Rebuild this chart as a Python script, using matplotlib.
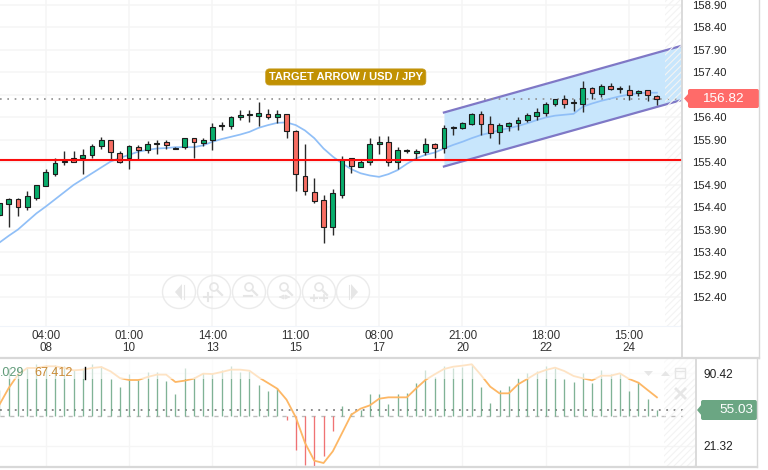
import matplotlib
matplotlib.use("Agg")
import matplotlib.pyplot as plt
import matplotlib.patches as patches
from matplotlib.transforms import blended_transform_factory

plt.rcParams["font.family"] = ["Liberation Sans", "DejaVu Sans"]
plt.rcParams["hatch.linewidth"] = 0.8

opens = [154.22, 154.46, 154.58, 154.41, 154.61, 154.87, 155.14, 155.39, 155.50, 155.48, 155.56, 155.75,
         155.88, 155.61, 155.48, 155.73, 155.67, 155.81, 155.84, 155.70, 155.73, 155.93, 155.83, 155.88,
         156.21, 156.19, 156.41, 156.44, 156.43, 156.47, 156.41, 156.46, 156.10, 155.10, 154.74, 154.55,
         153.96, 154.67, 155.48, 155.30, 155.39, 155.81, 155.84, 155.39, 155.64, 155.59, 155.63, 155.81,
         155.72, 156.15, 156.16, 156.24, 156.47, 156.24, 156.06, 156.21, 156.26, 156.33, 156.42, 156.50,
         156.70, 156.79, 156.71, 156.70, 157.04, 156.91, 157.09, 157.02, 157.01, 156.93, 156.99, 156.87]
closes = [154.48, 154.58, 154.41, 154.64, 154.89, 155.18, 155.37, 155.42, 155.41, 155.56, 155.76, 155.88,
          155.63, 155.39, 155.76, 155.67, 155.81, 155.83, 155.78, 155.72, 155.93, 155.84, 155.88, 156.17,
          156.22, 156.41, 156.44, 156.47, 156.49, 156.41, 156.47, 156.10, 155.13, 154.76, 154.53, 153.96,
          154.72, 155.44, 155.32, 155.39, 155.81, 155.84, 155.41, 155.66, 155.66, 155.64, 155.81, 155.72,
          156.15, 156.17, 156.26, 156.47, 156.24, 156.04, 156.22, 156.26, 156.34, 156.44, 156.51, 156.70,
          156.79, 156.70, 156.73, 157.04, 156.93, 157.10, 157.03, 157.04, 156.90, 156.98, 156.89, 156.79]
highs = [154.50, 154.61, 154.61, 154.76, 154.90, 155.24, 155.50, 155.65, 155.65, 155.68, 155.81, 155.95,
         155.90, 155.64, 155.78, 155.78, 155.87, 155.90, 155.88, 155.73, 155.94, 155.94, 155.94, 156.27,
         156.30, 156.42, 156.56, 156.56, 156.74, 156.58, 156.56, 156.47, 156.11, 155.80, 155.05, 154.66,
         154.81, 155.53, 155.50, 155.44, 155.93, 155.98, 155.98, 155.73, 155.70, 155.70, 155.93, 155.83,
         156.22, 156.19, 156.30, 156.48, 156.53, 156.43, 156.26, 156.30, 156.39, 156.50, 156.59, 156.73,
         156.81, 156.89, 156.81, 157.19, 157.07, 157.13, 157.15, 157.10, 157.11, 157.00, 157.00, 156.89]
lows = [154.20, 153.95, 154.21, 154.33, 154.56, 154.87, 155.09, 155.33, 155.40, 155.13, 155.50, 155.69,
        155.44, 155.37, 155.24, 155.46, 155.59, 155.58, 155.70, 155.69, 155.68, 155.50, 155.76, 155.67,
        156.11, 156.14, 156.33, 156.28, 156.21, 156.35, 156.27, 155.94, 154.76, 154.67, 154.48, 153.59,
        153.78, 154.59, 155.16, 155.28, 155.33, 155.57, 155.31, 155.24, 155.59, 155.47, 155.56, 155.48,
        155.59, 155.99, 156.13, 156.22, 156.00, 155.94, 155.81, 156.10, 156.11, 156.28, 156.33, 156.42,
        156.65, 156.61, 156.54, 156.52, 156.79, 156.85, 156.99, 156.93, 156.78, 156.87, 156.76, 156.67]
moving_avg = [153.61, 153.76, 153.90, 154.08, 154.26, 154.41, 154.57, 154.73, 154.89, 155.02, 155.15, 155.28,
              155.41, 155.49, 155.56, 155.63, 155.67, 155.70, 155.71, 155.73, 155.73, 155.73, 155.77, 155.85,
              155.91, 155.96, 156.01, 156.07, 156.16, 156.22, 156.27, 156.28, 156.22, 156.10, 155.93, 155.70,
              155.52, 155.37, 155.24, 155.15, 155.10, 155.07, 155.13, 155.22, 155.36, 155.48, 155.56, 155.61,
              155.70, 155.78, 155.85, 155.93, 156.00, 156.05, 156.11, 156.15, 156.20, 156.26, 156.33, 156.39,
              156.43, 156.45, 156.47, 156.63, 156.70, 156.76, 156.81, 156.86, 156.90, 156.93, 156.94, 156.94]
osc_bars = [74.7, 95.2, 95.2, 95.2, 99.0, 97.7, 97.7, 96.8, 93.6, 95.2, 99.0, 96.8,
            85.1, 76.9, 89.8, 84.1, 91.1, 91.1, 82.5, 70.5, 95.2, 86.7, 90.4, 90.4,
            93.0, 96.8, 91.1, 92.6, 78.8, 73.7, 76.2, 46.2, 17.8, 3.0, 2.1, 11.5,
            35.2, 58.9, 52.6, 55.7, 70.5, 70.2, 61.1, 70.2, 71.8, 80.7, 93.3, 87.0,
            97.4, 94.9, 96.4, 98.7, 77.5, 62.4, 74.3, 78.5, 85.4, 90.1, 92.3, 97.1,
            95.5, 84.8, 82.2, 90.1, 80.7, 93.3, 89.2, 90.1, 73.7, 81.6, 65.5, 55.03]
osc_line = [60.5, 76.2, 88.9, 95.2, 95.2, 96.8, 96.8, 95.2, 93.0, 93.6, 95.2, 96.1,
            92.0, 85.7, 83.8, 83.8, 86.7, 88.9, 88.9, 81.9, 83.2, 85.1, 89.8, 89.5,
            91.4, 93.6, 93.6, 92.6, 86.3, 81.0, 75.6, 65.2, 48.5, 24.2, 7.4, 5.2,
            16.3, 33.6, 51.0, 56.7, 59.8, 66.1, 67.4, 67.4, 67.4, 75.9, 83.8, 89.2,
            94.2, 96.4, 97.4, 98.7, 88.5, 77.5, 71.2, 71.2, 79.7, 84.8, 90.1, 93.3,
            95.5, 92.3, 87.6, 85.4, 83.5, 87.9, 87.9, 90.1, 84.8, 81.3, 74.3, 67.412]

time_ticks = [5, 14, 23, 32, 41, 50, 59, 68]
time_labels = ["04:00\n08", "01:00\n10", "14:00\n13", "11:00\n15", "08:00\n17", "21:00\n20", "18:00\n22", "15:00\n24"]
price_ticks = [158.9, 158.4, 157.9, 157.4, 156.9, 156.4, 155.9, 155.4, 154.9, 154.4, 153.9, 153.4, 152.9, 152.4]
price_labels = ["158.90", "158.40", "157.90", "157.40", "", "156.40", "155.90", "155.40", "154.90", "154.40",
                "153.90", "153.40", "152.90", "152.40"]
osc_ticks = [90.42, 21.32]
osc_labels = ["90.42", "21.32"]

last_price_line = 156.79
last_osc = 55.03
support = 155.45
channel_x = [48, 73.71]
channel_upper = [156.50, 157.985]
channel_lower = [155.30, 156.78]

GREEN = "#08ad6c"
RED = "#f76d62"
GRID = "#f5f5f5"
W, H = 768, 470


def pane(left, top, right, bottom):
    return fig.add_axes([left / W, 1 - bottom / H, (right - left) / W, (bottom - top) / H])


fig = plt.figure(figsize=(W / 100, H / 100), dpi=100, facecolor="white")

# price pane
ax = pane(0, 0, 682, 326)
idx = list(range(len(opens)))
ax.fill_between(channel_x, channel_lower, channel_upper, color="#c8e6fc", lw=0, zorder=1)
ax.plot(channel_x, channel_upper, color="#7f78c6", lw=1.6, zorder=2)
ax.plot(channel_x, channel_lower, color="#7f78c6", lw=1.6, zorder=2)
ax.axhline(last_price_line, color="#8f8f8f", lw=1.2, linestyle=(0, (1, 3.4)), zorder=2)
ax.axhline(support, color="#fb0d0d", lw=1.5, zorder=5)
ax.plot(idx, moving_avg, color="#90bff7", lw=1.25, zorder=3)

ax.vlines(idx, lows, highs, color="#2a2a2a", lw=1.0, zorder=4)
colors = [GREEN if c >= o else RED for o, c in zip(opens, closes)]
ax.bar(idx, [abs(c - o) for o, c in zip(opens, closes)], bottom=[min(o, c) for o, c in zip(opens, closes)],
       width=0.52, color=colors, edgecolor="#1c1c1c", linewidth=0.8, zorder=4)

ax.set_xlim(0.059, 73.71)
ax.set_ylim(151.756, 159.0)
ax.set_xticks(time_ticks)
ax.set_xticklabels(time_labels, fontsize=8.4, color="#333333", linespacing=0.95)
ax.set_yticks(price_ticks)
ax.set_yticklabels(price_labels, fontsize=8.1, color="#222222")
ax.yaxis.tick_right()
ax.tick_params(axis="x", length=0, pad=3)
ax.tick_params(axis="y", length=0, pad=7)
ax.grid(True, color=GRID, lw=1.1, zorder=0)
ax.set_axisbelow(True)
for s in ax.spines.values():
    s.set_visible(False)
ax.spines["bottom"].set_visible(True)
ax.spines["bottom"].set_color("#f0f4fa")

hatch_tr = blended_transform_factory(ax.transData, ax.transAxes)
ax.add_patch(patches.Rectangle((71.9, 0), 1.81, 1, transform=hatch_tr, facecolor="none", edgecolor="#f3f3f3",
                               hatch="/////", lw=0, zorder=2))

ax.text(37.4, 157.29, "TARGET ARROW / USD / JPY", color="white", fontsize=8.0, fontweight="bold", ha="center",
        va="center", zorder=6, bbox=dict(boxstyle="round,pad=0.28,rounding_size=0.35", fc="#c19102", ec="#c9a02a", lw=0.5))

# oscillator pane
ax2 = pane(0, 359, 696, 467)
ax2.axhline(50, xmax=683 / 696, color="#bdbdbd", lw=1.0, linestyle=(0, (3, 4)), zorder=1)
ax2.axhline(last_osc, xmax=683 / 696, color="#808080", lw=1.3, linestyle=(0, (1, 3.1)), zorder=1)
bar_colors = ["#6aa684" if v >= 50 else "#ee5a5c" for v in osc_bars]
ax2.vlines(idx, 50, osc_bars, colors=bar_colors, lw=0.95, alpha=0.85, zorder=2)
ax2.plot(idx, osc_line, color="#fdb765", lw=1.3, zorder=3)
ax2.set_xlim(0.059, 75.22)
ax2.set_ylim(1.43, 103.7)
ax2.set_xticks(time_ticks)
ax2.set_xticklabels([])
ax2.set_yticks(osc_ticks)
ax2.set_yticklabels(osc_labels, fontsize=8.6, color="#222222")
ax2.yaxis.tick_right()
ax2.tick_params(length=0, pad=5.5)
ax2.grid(True, color=GRID, lw=1.0, zorder=0)
ax2.set_axisbelow(True)
for s in ax2.spines.values():
    s.set_visible(False)
hatch_tr2 = blended_transform_factory(ax2.transData, ax2.transAxes)
ax2.add_patch(patches.Rectangle((71.8, 0), 3.42, 1, transform=hatch_tr2, facecolor="none", edgecolor="#f3f3f3",
                                hatch="/////", lw=0, zorder=1))
ax2.add_patch(patches.Rectangle((0, 0.815), 1, 0.185, transform=ax2.transAxes, facecolor="white", alpha=0.62,
                                lw=0, zorder=4))

# overlay in pixels for the frame, tags and toolbar
ov = fig.add_axes([0, 0, 1, 1], facecolor="none", zorder=10)
ov.set_xlim(0, W)
ov.set_ylim(H, 0)
ov.axis("off")

FRAME = "#d8d8d8"
ov.plot([682, 682], [0, 358], color=FRAME, lw=1.3)
ov.plot([759, 759], [0, 358], color=FRAME, lw=1.0)
ov.plot([0, 759], [358, 358], color=FRAME, lw=1.6)
ov.plot([0, 757], [467, 467], color=FRAME, lw=1.6)
ov.plot([696, 696], [358, 467], color=FRAME, lw=1.3)
ov.plot([757, 757], [358, 467], color=FRAME, lw=1.0)

ov.add_patch(patches.FancyBboxPatch((688, 89), 71, 19, boxstyle="round,pad=0,rounding_size=2", fc="#ff6b69", ec="none"))
ov.add_patch(patches.Polygon([[684, 98.5], [689, 93], [689, 104]], fc="#ff6b69", ec="none"))
ov.text(722.5, 98.8, "156.82", color="white", fontsize=9.7, ha="center", va="center")

ov.add_patch(patches.FancyBboxPatch((701, 400), 56, 20, boxstyle="round,pad=0,rounding_size=2", fc="#6ba683", ec="none"))
ov.add_patch(patches.Polygon([[697, 410], [702, 404], [702, 416]], fc="#6ba683", ec="none"))
ov.text(736, 410.3, "55.03", color="white", fontsize=9.7, ha="center", va="center")

ov.text(0, 373, ".029", color="#5f9a78", fontsize=9, ha="left", va="center")
ov.text(34, 373, "67.412", color="#c98a35", fontsize=9, ha="left", va="center")
ov.plot([85, 85], [367, 379], color="black", lw=1.0)

ICON = "#e6e6e6"
ov.add_patch(patches.Polygon([[644, 371], [653, 371], [648.5, 376]], fc=ICON, ec="none"))
ov.add_patch(patches.Polygon([[661, 376], [670, 376], [665.5, 371]], fc=ICON, ec="none"))
ov.add_patch(patches.Rectangle((675, 368), 10, 10, fc="none", ec=ICON, lw=1.0))
ov.plot([675, 685], [370.5, 370.5], color=ICON, lw=1.0)
ov.plot([676, 685], [389, 398], color=ICON, lw=2.0)
ov.plot([685, 676], [389, 398], color=ICON, lw=2.0)

# zoom toolbar
centers = [179, 214, 249, 284, 319, 353]
for cx in centers:
    ov.add_patch(patches.Circle((cx, 292), 16.5, fc="none", ec="#ebebeb", lw=1.0))
ov.add_patch(patches.Polygon([[175, 292], [182, 284], [182, 300]], fc=ICON, ec="none"))
ov.plot([184, 184], [285, 299], color=ICON, lw=0.8)
ov.add_patch(patches.Polygon([[358, 292], [351, 284], [351, 300]], fc=ICON, ec="none"))
ov.plot([349, 349], [285, 299], color=ICON, lw=0.8)
for cx in centers[1:5]:
    ov.add_patch(patches.Circle((cx, 287), 4, fc="none", ec=ICON, lw=1.2))
    ov.plot([cx + 3, cx + 8], [290, 295], color=ICON, lw=1.6)
ov.plot([204, 212], [297, 297], color=ICON, lw=1.5)
ov.plot([208, 208], [293, 301], color=ICON, lw=1.5)
ov.plot([244, 252], [296, 296], color=ICON, lw=1.5)
ov.annotate("", xy=(276, 297), xytext=(284, 297), arrowprops=dict(arrowstyle="-|>", color=ICON, lw=1.0, mutation_scale=6))
ov.annotate("", xy=(293, 297), xytext=(285, 297), arrowprops=dict(arrowstyle="-|>", color=ICON, lw=1.0, mutation_scale=6))
ov.plot([311, 317], [298, 298], color=ICON, lw=1.5)
ov.plot([320, 327], [298, 298], color=ICON, lw=1.5)
ov.plot([314, 314], [295, 301], color=ICON, lw=1.2)
ov.plot([323.5, 323.5], [295, 301], color=ICON, lw=1.2)

fig.savefig("out.png", dpi=100, facecolor="white")
